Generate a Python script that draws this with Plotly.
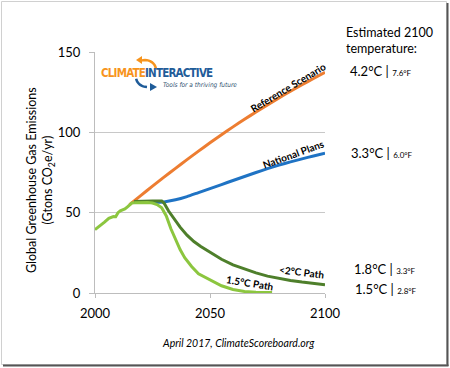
import math
import plotly.graph_objects as go

# ---------------- data ----------------
hist_years = [2000, 2002, 2004, 2006, 2008, 2009, 2010, 2011, 2012, 2013, 2014, 2015, 2016, 2017]
hist_vals = [39.4, 41.5, 44.0, 46.5, 47.6, 47.5, 50.0, 51.2, 51.6, 52.3, 53.5, 55.0, 56.0, 56.2]

path15_years = [2017, 2020, 2023, 2025, 2027, 2029, 2031, 2033, 2035, 2037, 2039, 2042, 2045, 2050, 2055, 2060, 2065, 2070, 2077]
path15_vals = [56.2, 56.3, 56.3, 56.0, 55.0, 53.0, 48.0, 40.0, 33.0, 27.0, 22.0, 16.5, 12.0, 8.3, 4.5, 2.2, 1.0, 0.5, 0.3]

path2_years = [2017, 2020, 2025, 2029, 2030, 2032, 2035, 2037, 2040, 2043, 2046, 2050, 2055, 2060, 2065, 2070, 2075, 2080, 2085, 2090, 2095, 2100]
path2_vals = [57.0, 57.2, 57.3, 57.3, 56.0, 51.0, 45.0, 41.0, 36.0, 32.0, 29.0, 25.5, 21.0, 17.5, 15.0, 12.5, 10.5, 9.0, 7.8, 6.8, 6.0, 5.2]

ref_years = [2015, 2020, 2025, 2030, 2035, 2040, 2045, 2050, 2055, 2060, 2065, 2070, 2075, 2080, 2085, 2090, 2095, 2100]
ref_vals = [55.0, 60.8, 66.5, 72.1, 77.6, 83.0, 88.3, 93.5, 98.5, 103.4, 108.1, 112.7, 117.1, 121.4, 125.6, 129.6, 133.5, 137.3]

nat_years = [2017, 2020, 2025, 2030, 2035, 2040, 2045, 2050, 2055, 2060, 2065, 2070, 2075, 2080, 2085, 2090, 2095, 2100]
nat_vals = [56.5, 56.5, 56.5, 56.7, 58.0, 60.0, 62.5, 65.0, 67.5, 70.0, 72.5, 75.0, 77.4, 79.6, 81.6, 83.5, 85.3, 87.0]

y_ticks = [0, 50, 100, 150]
x_ticks = [2000, 2050, 2100]

temp_c = ["4.2°C", "3.3°C", "1.8°C", "1.5°C"]
temp_f = ["7.6°F", "6.0°F", "3.3°F", "2.8°F"]

# ---------------- layout geometry (pixels) ----------------
W, H = 450, 368
L, R, T, B = 95, 325, 52, 293


def px(x, y):
    return (x - L) / (R - L), (B - y) / (B - T)


ORANGE = "#ED7D31"
BLUE = "#1F73C4"
DGREEN = "#4E7F2B"
LGREEN = "#8CC63F"
FONT = "Lato"
LOGO_FONT = "DejaVu Sans Condensed"

fig = go.Figure()
fig.add_trace(go.Scatter(x=ref_years, y=ref_vals, mode="lines", line=dict(color=ORANGE, width=3, shape="spline", smoothing=0.6), hoverinfo="skip"))
fig.add_trace(go.Scatter(x=nat_years, y=nat_vals, mode="lines", line=dict(color=BLUE, width=3, shape="spline", smoothing=0.6), hoverinfo="skip"))
fig.add_trace(go.Scatter(x=path2_years, y=path2_vals, mode="lines", line=dict(color=DGREEN, width=3), hoverinfo="skip"))
fig.add_trace(go.Scatter(x=hist_years, y=hist_vals, mode="lines", line=dict(color=LGREEN, width=3), hoverinfo="skip"))
fig.add_trace(go.Scatter(x=path15_years, y=path15_vals, mode="lines", line=dict(color=LGREEN, width=3), hoverinfo="skip"))

fig.update_layout(
    width=W, height=H,
    margin=dict(l=L, r=W - R, t=T, b=H - B, pad=0),
    paper_bgcolor="white", plot_bgcolor="white",
    showlegend=False,
    font=dict(family=FONT, color="#000000"),
    xaxis=dict(range=[2000, 2100], tickvals=x_ticks, showgrid=False, showline=True,
               linecolor="#BDBDBD", linewidth=1, ticks="outside", ticklen=4, tickcolor="#BDBDBD",
               tickfont=dict(size=13, family=FONT, color="#000"), zeroline=False, fixedrange=True,
               ticklabelstandoff=4),
    yaxis=dict(range=[0, 150], tickvals=y_ticks, showgrid=True, gridcolor="#C8C8C8", gridwidth=1,
               showline=True, linecolor="#BDBDBD", linewidth=1, ticks="outside", ticklen=5,
               tickcolor="#BDBDBD", tickfont=dict(size=13, family=FONT, color="#000"),
               zeroline=False, fixedrange=True, ticklabelstandoff=6),
)

ann = []
# y-axis title
ax_, ay_ = px(40, 180)
ann.append(dict(x=ax_, y=ay_, xref="paper", yref="paper", textangle=-90, showarrow=False,
                text="Global Greenhouse Gas Emissions<br>(Gtons CO<sub>2</sub>e/yr)",
                font=dict(size=12.5, family=FONT, color="#000"), xanchor="center", yanchor="middle"))

# series labels
ann.append(dict(x=2084.1, y=128.4, xref="x", yref="y", text="<b>Reference Scenario</b>", textangle=-31,
                showarrow=False, font=dict(size=10, family=FONT, color="#000")))
ann.append(dict(x=2086.3, y=86.6, xref="x", yref="y", text="<b>National Plans</b>", textangle=-20,
                showarrow=False, font=dict(size=10, family=FONT, color="#000")))
ann.append(dict(x=2090.0, y=12.8, xref="x", yref="y", text="<b>&lt;2°C Path</b>", textangle=7,
                showarrow=False, font=dict(size=10, family=FONT, color="#000")))
ann.append(dict(x=2067.6, y=6.3, xref="x", yref="y", text="<b>1.5°C Path</b>", textangle=9,
                showarrow=False, font=dict(size=10, family=FONT, color="#000")))

# right column
hx, hy = px(344, 41)
ann.append(dict(x=hx, y=hy, xref="paper", yref="paper", xanchor="left", yanchor="middle", align="left",
                showarrow=False, text="Estimated 2100<br>temperature:",
                font=dict(size=12.5, family=FONT, color="#000")))
temp_pos = [(347.7, 71), (349.3, 153.3), (351.5, 269), (352.5, 289)]
for (tx, ty), c, f in zip(temp_pos, temp_c, temp_f):
    x0, y0 = px(tx, ty)
    ann.append(dict(x=x0, y=y0, xref="paper", yref="paper", xanchor="left", yanchor="middle",
                    showarrow=False,
                    text=f"{c} | <span style='font-size:8px'>{f}</span>",
                    font=dict(size=13, family=FONT, color="#000")))

# footer
fx, fy = px(238, 343)
ann.append(dict(x=fx, y=fy, xref="paper", yref="paper", showarrow=False, xanchor="center", yanchor="middle",
                text="<i>April 2017, ClimateScoreboard.org</i>", font=dict(size=10.5, family=FONT, color="#000")))

# logo text
lx, ly = px(99, 73)
ann.append(dict(x=lx, y=ly, xref="paper", yref="paper", showarrow=False, xanchor="left", yanchor="middle",
                text="<b><span style='color:#F7941D;letter-spacing:-0.8px'>CLIMATE</span>"
                     "<span style='color:#1F5C99;letter-spacing:-0.8px'>INTERACTIVE</span></b>",
                font=dict(size=11.5, family=LOGO_FONT, color="#1F5C99")))
tx_, ty_ = px(161, 85)
ann.append(dict(x=tx_, y=ty_, xref="paper", yref="paper", showarrow=False, xanchor="left", yanchor="middle",
                text="<i>Tools for a thriving future</i>",
                font=dict(size=6.5, family=LOGO_FONT, color="#2F4F6F")))

shapes = []


def path_px(pts, close=False):
    s = ""
    for i, (x, y) in enumerate(pts):
        X, Y = px(x, y)
        s += ("M" if i == 0 else "L") + f"{X:.4f},{Y:.4f} "
    if close:
        s += "Z"
    return s


# logo arcs (behind the logo text)
orange_arc = [(145 + 11 * math.cos(math.radians(a)), 70 - 10 * math.sin(math.radians(a))) for a in range(10, 111, 10)]
shapes.append(dict(type="path", xref="paper", yref="paper", path=path_px(orange_arc),
                   line=dict(color="#F7941D", width=2.5), layer="below"))
shapes.append(dict(type="path", xref="paper", yref="paper",
                   path=path_px([(142, 56), (142, 64), (136, 60)], close=True),
                   fillcolor="#F7941D", line=dict(width=0), layer="below"))
blue_arc = [(147 + 11 * math.cos(math.radians(a)), 77 - 10 * math.sin(math.radians(a))) for a in range(190, 271, 10)]
shapes.append(dict(type="path", xref="paper", yref="paper", path=path_px(blue_arc),
                   line=dict(color="#1F5C99", width=2.5), layer="below"))
shapes.append(dict(type="path", xref="paper", yref="paper",
                   path=path_px([(150, 83), (150, 91), (157, 87)], close=True),
                   fillcolor="#1F5C99", line=dict(width=0), layer="below"))

# outer frame with shadow
fx0, fy0 = px(1.5, 1.5)
fx1, fy1 = px(446.5, 364.5)
shapes.append(dict(type="rect", xref="paper", yref="paper", x0=fx0, y0=fy0, x1=fx1, y1=fy1,
                   line=dict(color="#D0D0D0", width=1), layer="below"))
sx0, sy0 = px(447.5, 3)
sx1, sy1 = px(447.5, 366)
shapes.append(dict(type="line", xref="paper", yref="paper", x0=sx0, y0=sy0, x1=sx1, y1=sy1,
                   line=dict(color="#555555", width=2)))
bx0, by0 = px(3, 365.5)
bx1, by1 = px(448.5, 365.5)
shapes.append(dict(type="line", xref="paper", yref="paper", x0=bx0, y0=by0, x1=bx1, y1=by1,
                   line=dict(color="#555555", width=2)))

fig.update_layout(annotations=ann, shapes=shapes)
fig.write_html("out.html", config={"displayModeBar": False},
               post_script="document.body.style.margin='0';document.body.style.padding='0';")
